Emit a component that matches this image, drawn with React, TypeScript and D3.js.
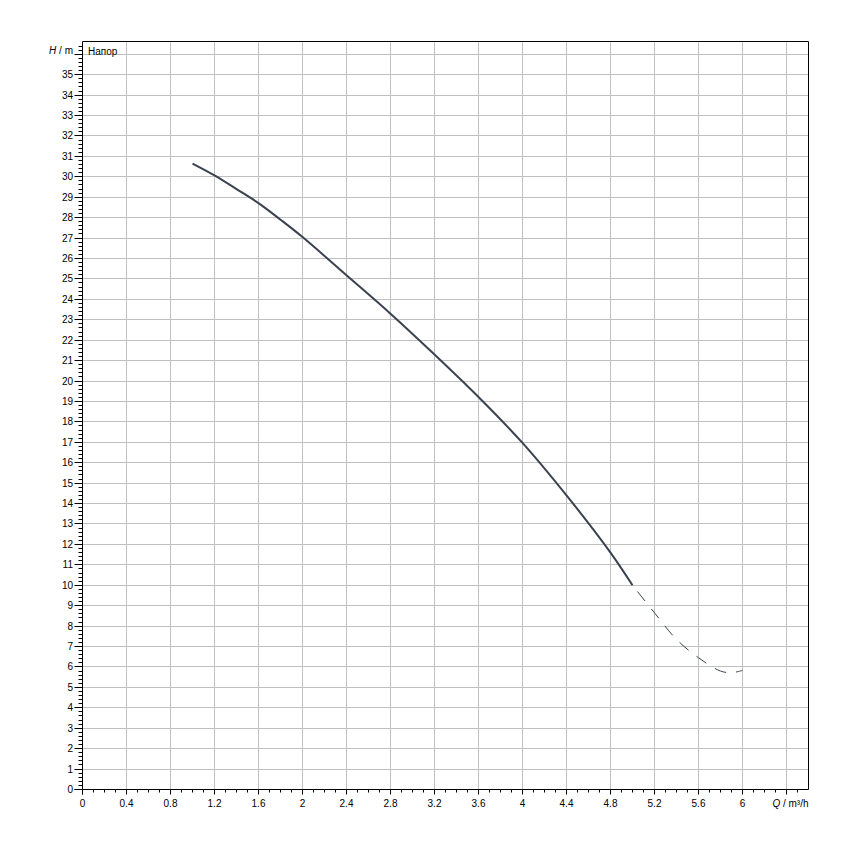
import React from "react";
import * as d3 from "d3";

const solidQ = [1.0, 1.2, 1.4, 1.6, 1.8, 2.0, 2.4, 2.8, 3.2, 3.6, 4.0, 4.4, 4.8, 5.0];
const solidH = [30.65, 30.07, 29.4, 28.71, 27.9, 27.05, 25.18, 23.3, 21.3, 19.22, 16.97, 14.4, 11.6, 10.0];
const dashQ = [5.0, 5.2, 5.4, 5.6, 5.8, 5.9, 6.0];
const dashH = [10.0, 8.65, 7.35, 6.45, 5.8, 5.72, 5.83];
const xTickLabels = ["0", "0.4", "0.8", "1.2", "1.6", "2", "2.4", "2.8", "3.2", "3.6", "4", "4.4", "4.8", "5.2", "5.6", "6"];
const yTickValues = d3.range(0, 36);
const curveLabel = "Напор";

const W = 850, H = 850;
const L = 82.5, R = 808.5, T = 41.5, B = 789.5;
const FONT = "'Liberation Sans', Arial, sans-serif";

export default function App() {
  const x = d3.scaleLinear().domain([0, 6.6]).range([L, R]);
  const y = d3.scaleLinear().domain([0, 36.6]).range([B, T + 0.5]);
  const px = (v: number) => Math.round(v - 0.5) + 0.5;

  const xGrid = d3.range(0, 6.6 + 1e-6, 0.4).map((v) => +v.toFixed(1));
  const xMinor = d3.range(0, 66).map((i) => i / 10);
  const yMinor = d3.range(0, 183).map((i) => i / 5);

  const line = d3
    .line<[number, number]>()
    .x((d) => x(d[0]))
    .y((d) => y(d[1]))
    .curve(d3.curveCatmullRom.alpha(0.5));
  const solidPts = solidQ.map((q, i) => [q, solidH[i]] as [number, number]);
  const dashPts = dashQ.map((q, i) => [q, dashH[i]] as [number, number]);

  return (
    <svg width={W} height={H} style={{ position: "absolute", left: 0, top: 0, background: "#fff" }}>
      <rect x={0} y={0} width={W} height={H} fill="#fff" />
      {xGrid.slice(1).map((v) => (
        <line key={"gx" + v} x1={px(x(v))} x2={px(x(v))} y1={T} y2={B} stroke="#c0c0c0" strokeWidth={1} />
      ))}
      {yTickValues.concat([36]).slice(1).map((v) => (
        <line key={"gy" + v} x1={L} x2={R} y1={px(y(v))} y2={px(y(v))} stroke="#c0c0c0" strokeWidth={1} />
      ))}
      <line x1={L} x2={R} y1={T} y2={T} stroke="#000" />
      <line x1={R} x2={R} y1={T} y2={B} stroke="#000" />
      <line x1={L} x2={L} y1={T} y2={B + 5} stroke="#000" />
      <line x1={L - 8} x2={R} y1={B} y2={B} stroke="#000" />
      {xMinor.map((v, i) => (
        <line key={"xt" + i} x1={px(x(v))} x2={px(x(v))} y1={B} y2={B + (i % 4 === 0 ? 5 : 3)} stroke="#000" />
      ))}
      {yMinor.map((v, i) => (
        <line key={"yt" + i} x1={L - (i % 5 === 0 ? 8 : 4)} x2={L} y1={px(y(v))} y2={px(y(v))} stroke="#000" />
      ))}
      {xTickLabels.map((t, i) => (
        <text key={"xl" + i} x={x(i * 0.4)} y={807} textAnchor="middle" fontFamily={FONT} fontSize={10} fill="#000">
          {t}
        </text>
      ))}
      <text x={R} y={807} textAnchor="end" fontFamily={FONT} fontSize={10} fill="#000">
        <tspan fontStyle="italic">Q</tspan> / m³/h
      </text>
      {yTickValues.map((v) => (
        <text key={"yl" + v} x={73} y={y(v) + 3.5} textAnchor="end" fontFamily={FONT} fontSize={10} fill="#000">
          {v}
        </text>
      ))}
      <text x={73} y={54} textAnchor="end" fontFamily={FONT} fontSize={10} fill="#000">
        <tspan fontStyle="italic">H</tspan> / m
      </text>
      <text x={88} y={55} fontFamily={FONT} fontSize={10} fill="#000">
        {curveLabel}
      </text>
      <path d={line(solidPts) || ""} fill="none" stroke="#3a4250" strokeWidth={2} />
      <path d={line(dashPts) || ""} fill="none" stroke="#3a4250" strokeWidth={1} strokeDasharray="12 10" strokeDashoffset={-8} />
    </svg>
  );
}
